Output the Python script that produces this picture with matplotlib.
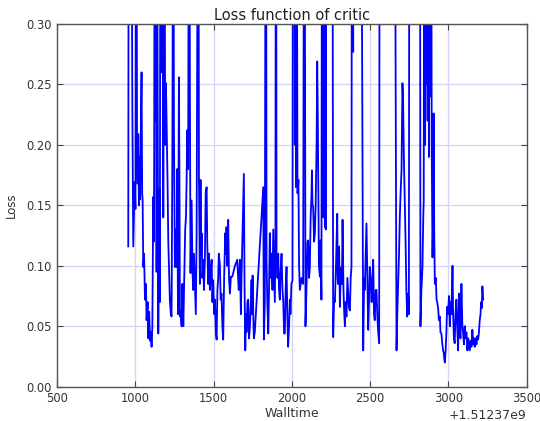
import matplotlib
matplotlib.use('Agg')
import matplotlib.pyplot as plt
from matplotlib.ticker import ScalarFormatter, MultipleLocator

# walltime offset (seconds) - axis shows +1.51237e9
offset = 1512370000

# walltime relative to offset
walltime = [
    954, 958, 966, 972, 980, 986, 990, 995, 1000, 1005, 1010, 1014, 1018, 1022, 1026, 1030,
    1034, 1039, 1043, 1046, 1050, 1055, 1061, 1067, 1071, 1078, 1082, 1088, 1093, 1099, 1103,
    1108, 1114, 1118, 1120, 1124, 1128, 1131, 1135, 1139, 1146, 1152, 1156, 1160, 1167, 1173,
    1178, 1184, 1190, 1195, 1205, 1210, 1220, 1226, 1231, 1236, 1242, 1246, 1252, 1258, 1263,
    1267, 1272, 1278, 1282, 1284, 1288, 1295, 1300, 1306, 1312, 1318, 1323, 1327, 1331, 1337,
    1344, 1348, 1352, 1359, 1365, 1369, 1374, 1380, 1386, 1391, 1398, 1401, 1406, 1412, 1416,
    1420, 1423, 1428, 1433, 1438, 1444, 1449, 1455, 1459, 1465, 1470, 1476, 1482, 1487, 1492,
    1497, 1503, 1508, 1514, 1519, 1524, 1529, 1533, 1540, 1545, 1550, 1556, 1561, 1567, 1574,
    1578, 1582, 1587, 1593, 1598, 1604, 1610, 1619, 1636, 1651, 1660, 1668, 1674, 1678, 1685,
    1693, 1697, 1702, 1707, 1710, 1716, 1721, 1726, 1732, 1738, 1742, 1746, 1749, 1753, 1757,
    1763, 1817, 1821, 1827, 1834, 1838, 1843, 1849, 1854, 1859, 1865, 1870, 1876, 1881, 1887,
    1891, 1895, 1898, 1902, 1908, 1913, 1918, 1923, 1928, 1934, 1940, 1945, 1950, 1955, 1960,
    1966, 1971, 1976, 1982, 1987, 1991, 1997, 2004, 2008, 2012, 2015, 2019, 2023, 2027, 2030,
    2036, 2042, 2046, 2051, 2062, 2072, 2080, 2087, 2094, 2100, 2104, 2110, 2115, 2120, 2126,
    2128, 2132, 2136, 2142, 2147, 2152, 2158, 2162, 2165, 2168, 2173, 2179, 2183, 2189, 2194,
    2200, 2205, 2211, 2215, 2217, 2220, 2258, 2264, 2270, 2275, 2282, 2290, 2293, 2296, 2302,
    2307, 2312, 2317, 2320, 2324, 2330, 2335, 2339, 2344, 2349, 2355, 2360, 2365, 2371, 2376,
    2381, 2385, 2388, 2392, 2396, 2440, 2456, 2462, 2466, 2472, 2477, 2483, 2488, 2493, 2498,
    2505, 2510, 2515, 2520, 2525, 2530, 2536, 2541, 2546, 2552, 2558, 2562, 2655, 2669, 2674,
    2679, 2685, 2690, 2695, 2701, 2707, 2711, 2716, 2722, 2727, 2732, 2737, 2743, 2748, 2752,
    2818, 2822, 2828, 2835, 2840, 2843, 2847, 2852, 2856, 2860, 2864, 2868, 2872, 2876, 2880,
    2885, 2889, 2894, 2899, 2903, 2906, 2910, 2914, 2920, 2925, 2929, 2935, 2940, 2946, 2950,
    2956, 2962, 2967, 2971, 2975, 2978, 2983, 2988, 2992, 2997, 3005, 3010, 3015, 3020, 3024,
    3027, 3031, 3036, 3041, 3046, 3052, 3057, 3063, 3066, 3069, 3073, 3078, 3084, 3090, 3095,
    3100, 3105, 3110, 3116, 3122, 3128, 3137, 3143, 3148, 3154, 3160, 3165, 3169, 3175, 3180,
    3186, 3191, 3196, 3201, 3206, 3210, 3214, 3218, 3223,
]

loss = [
    0.116, 0.60, 0.40, 0.55, 0.234, 0.116, 0.141, 0.169, 0.147, 0.60, 0.200, 0.168, 0.209, 0.150, 0.190, 0.155,
    0.209, 0.260, 0.160, 0.154, 0.099, 0.110, 0.072, 0.085, 0.055, 0.070, 0.040, 0.062, 0.038, 0.045, 0.033,
    0.050, 0.157, 0.120, 0.204, 0.60, 0.220, 0.50, 0.095, 0.40, 0.044, 0.163, 0.070, 0.55, 0.260, 0.60,
    0.140, 0.55, 0.200, 0.251, 0.171, 0.120, 0.072, 0.060, 0.058, 0.193, 0.50, 0.215, 0.099, 0.130, 0.099,
    0.180, 0.060, 0.256, 0.150, 0.058, 0.063, 0.050, 0.085, 0.050, 0.090, 0.130, 0.141, 0.170, 0.212, 0.180,
    0.60, 0.250, 0.094, 0.154, 0.094, 0.080, 0.110, 0.085, 0.060, 0.127, 0.40, 0.60, 0.171, 0.085, 0.171,
    0.110, 0.127, 0.090, 0.105, 0.080, 0.105, 0.160, 0.165, 0.120, 0.085, 0.110, 0.080, 0.095, 0.105, 0.070,
    0.088, 0.060, 0.072, 0.045, 0.039, 0.080, 0.090, 0.110, 0.100, 0.072, 0.077, 0.050, 0.039, 0.090, 0.127,
    0.110, 0.132, 0.100, 0.138, 0.090, 0.077, 0.091, 0.091, 0.100, 0.105, 0.080, 0.105, 0.060, 0.090, 0.130,
    0.176, 0.090, 0.030, 0.060, 0.045, 0.070, 0.072, 0.040, 0.050, 0.070, 0.088, 0.060, 0.092, 0.061, 0.040,
    0.045, 0.165, 0.039, 0.070, 0.60, 0.105, 0.070, 0.044, 0.080, 0.127, 0.090, 0.110, 0.080, 0.130, 0.095,
    0.070, 0.120, 0.60, 0.110, 0.090, 0.110, 0.080, 0.072, 0.095, 0.110, 0.080, 0.070, 0.044, 0.044, 0.080,
    0.099, 0.060, 0.033, 0.050, 0.072, 0.060, 0.085, 0.088, 0.60, 0.300, 0.70, 0.200, 0.60, 0.165, 0.50,
    0.160, 0.171, 0.100, 0.080, 0.090, 0.085, 0.60, 0.050, 0.085, 0.120, 0.121, 0.090, 0.099, 0.140, 0.160,
    0.179, 0.150, 0.149, 0.120, 0.127, 0.150, 0.201, 0.269, 0.234, 0.180, 0.100, 0.091, 0.121, 0.072, 0.60,
    0.140, 0.70, 0.132, 0.50, 0.130, 0.60, 0.60, 0.041, 0.072, 0.070, 0.100, 0.143, 0.090, 0.085, 0.116,
    0.066, 0.090, 0.099, 0.085, 0.138, 0.080, 0.060, 0.050, 0.070, 0.058, 0.090, 0.077, 0.065, 0.063, 0.090,
    0.099, 0.60, 0.350, 0.277, 0.60, 0.60, 0.030, 0.090, 0.080, 0.110, 0.135, 0.085, 0.047, 0.070, 0.099,
    0.085, 0.070, 0.090, 0.105, 0.060, 0.055, 0.080, 0.080, 0.060, 0.045, 0.036, 0.60, 0.60, 0.030, 0.060,
    0.083, 0.110, 0.140, 0.160, 0.179, 0.251, 0.237, 0.190, 0.154, 0.120, 0.080, 0.058, 0.077, 0.060, 0.60,
    0.60, 0.050, 0.080, 0.099, 0.140, 0.154, 0.60, 0.200, 0.70, 0.250, 0.60, 0.220, 0.60, 0.190, 0.50,
    0.240, 0.60, 0.200, 0.107, 0.140, 0.226, 0.130, 0.085, 0.090, 0.072, 0.070, 0.065, 0.055, 0.058, 0.045,
    0.044, 0.035, 0.030, 0.028, 0.022, 0.020, 0.030, 0.045, 0.066, 0.060, 0.075, 0.050, 0.070, 0.060, 0.085,
    0.100, 0.060, 0.040, 0.036, 0.060, 0.072, 0.050, 0.030, 0.060, 0.077, 0.050, 0.040, 0.085, 0.050, 0.044,
    0.035, 0.050, 0.040, 0.045, 0.030, 0.040, 0.030, 0.038, 0.033, 0.047, 0.035, 0.040, 0.033, 0.040, 0.035,
    0.042, 0.039, 0.045, 0.055, 0.060, 0.070, 0.065, 0.083, 0.072,
]

x = [offset + t for t in walltime]

fig = plt.figure(figsize=(5.4, 4.21), dpi=100)
ax = fig.add_axes([0.106, 0.0815, 0.869, 0.8615])

ax.plot(x, loss, color='b', linewidth=1.3)

ax.set_xlim(offset + 500, offset + 3500)
ax.set_ylim(0.0, 0.30)
ax.xaxis.set_major_locator(MultipleLocator(500))
ax.yaxis.set_major_locator(MultipleLocator(0.05))

fmt = ScalarFormatter(useOffset=offset)
ax.xaxis.set_major_formatter(fmt)
ax.yaxis.set_major_formatter(plt.FormatStrFormatter('%.2f'))
ax.xaxis.get_offset_text().set_fontsize(9)
ax.xaxis.get_offset_text().set_color('#333333')

ax.grid(True, color='#d4d4f6', linewidth=0.9, linestyle='-')
ax.set_axisbelow(True)

ax.tick_params(direction='in', top=True, right=True, labelsize=8.3, length=4, pad=4,
               color='#444444', labelcolor='#333333')
for s in ax.spines.values():
    s.set_color('#555555')
    s.set_linewidth(1.0)

ax.set_title('Loss function of critic', fontsize=10.5, pad=3, color='#222222')
ax.set_xlabel('Walltime', fontsize=9, labelpad=1, color='#333333')
ax.set_ylabel('Loss', fontsize=8.5, labelpad=6, color='#333333')

fig.savefig('out.png', dpi=100)
